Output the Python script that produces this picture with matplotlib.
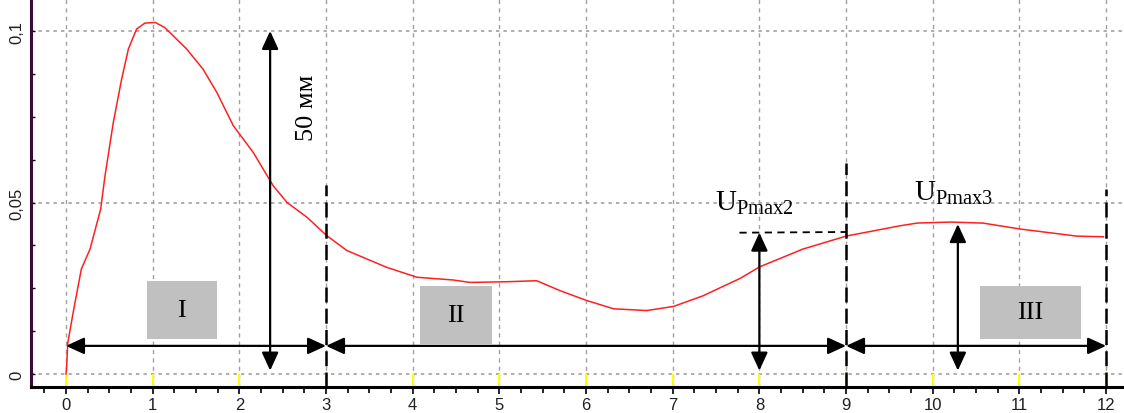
import matplotlib
matplotlib.use("Agg")
import matplotlib.pyplot as plt
from matplotlib.ticker import MultipleLocator
from matplotlib.patches import Rectangle

# ---- data ----
curve_x = [0.0, 0.008, 0.02, 0.09, 0.177, 0.277, 0.40, 0.45, 0.546, 0.642, 0.72, 0.815,
           0.91, 1.03, 1.14, 1.39, 1.58, 1.74, 1.93, 2.16, 2.39, 2.55, 2.78, 3.01, 3.24,
           3.70, 4.05, 4.47, 4.66, 5.09, 5.43, 5.70, 6.01, 6.32, 6.70, 7.01, 7.35, 7.78,
           8.0, 8.5, 9.0, 9.62, 9.82, 10.2, 10.58, 11.0, 11.66, 11.97]
curve_y = [0.0, 0.0024, 0.009, 0.019, 0.0306, 0.0364, 0.0481, 0.0578, 0.0734, 0.086, 0.0948,
           0.1006, 0.1023, 0.1025, 0.101, 0.0948, 0.0889, 0.0821, 0.0724, 0.0646, 0.0549,
           0.05, 0.0457, 0.0403, 0.036, 0.0311, 0.0282, 0.0274, 0.0267, 0.0269, 0.0272,
           0.0243, 0.0214, 0.019, 0.0185, 0.0197, 0.0228, 0.0279, 0.0312, 0.0364, 0.0402,
           0.0432, 0.044, 0.0443, 0.044, 0.0423, 0.0402, 0.04]

x_ticks = [0, 1, 2, 3, 4, 5, 6, 7, 8, 9, 10, 11, 12]
x_tick_labels = [str(v) for v in x_ticks]
y_ticks = [0, 0.05, 0.1]
y_tick_labels = ["0", "0,05", "0,1"]

stage_bounds = [0, 3, 9, 12]
stage_names = ["I", "II", "III"]
stage_boxes = [(0.93, 1.74, 0.0102, 0.0271), (4.08, 4.92, 0.0087, 0.0257), (10.55, 11.71, 0.0102, 0.0257)]
stage_line_tops = [0.055, 0.0616, 0.054]

arrow_y = 0.0082
height_arrow_x = 2.355
height_arrow_top = 0.1
umax2_x = 8.0
umax2_y = 0.0412
umax3_x = 10.29
umax3_y = 0.0437
arrow_bottom = 0.001

plt.rcParams["mathtext.fontset"] = "custom"
plt.rcParams["mathtext.rm"] = "Liberation Serif"

tick_font = "Liberation Sans"
tick_size = 12

fig = plt.figure(figsize=(11.24, 4.14), dpi=100)
ax = fig.add_axes([31/1124, 26/414, 1093/1124, 388/414])
ax.set_xlim(-0.404, 12.207)
ax.set_ylim(-0.00379, 0.10933)

for s in ["top", "right"]:
    ax.spines[s].set_visible(False)
ax.spines["left"].set_color("#3a0a3a")
ax.spines["left"].set_linewidth(2.2)
ax.spines["bottom"].set_color("black")
ax.spines["bottom"].set_linewidth(2.2)

# grid
for xv in x_ticks:
    ax.axvline(xv, color="#a0a0a0", lw=1, ls=(0, (3, 3)), zorder=0)
for yv in y_ticks:
    ax.axhline(yv, color="#a0a0a0", lw=1.2, ls=(0, (2, 2.5)), zorder=0)
# yellow marks
ax.vlines(x_ticks, -0.00379, 0, color="#ffff00", lw=1.5, zorder=1)

ax.set_xticks(x_ticks)
ax.set_xticklabels(x_tick_labels, fontsize=tick_size, family=tick_font, color="#202020")
ax.xaxis.set_minor_locator(MultipleLocator(0.25))
ax.tick_params(axis="x", which="major", direction="out", length=5, width=1.2, pad=2)
ax.tick_params(axis="x", which="minor", direction="out", length=4, width=1.2)
ax.set_yticks(y_ticks)
ax.set_yticklabels(y_tick_labels, fontsize=tick_size, family=tick_font, rotation=90,
                   va="center", color="#202020")
ax.yaxis.set_minor_locator(MultipleLocator(0.0125))
ax.tick_params(axis="y", which="major", direction="in", length=3, width=1, pad=5)
ax.tick_params(axis="y", which="minor", direction="in", length=3, width=1)

ax.plot(curve_x, curve_y, color="#ff2020", lw=1.1, zorder=3)

# stage boundary dashed lines
for xb, top in zip(stage_bounds[1:], stage_line_tops):
    ax.plot([xb, xb], [-0.00379, top], color="black", lw=1.8, ls=(0, (6, 2.5)), zorder=4,
            clip_on=False)

arrow_kw = dict(arrowstyle="<|-|>,head_length=0.5,head_width=0.23", color="black", lw=1.6,
                mutation_scale=22, shrinkA=0, shrinkB=0)
for a, b in zip(stage_bounds[:-1], stage_bounds[1:]):
    ax.annotate("", xy=(b, arrow_y), xytext=(a, arrow_y), arrowprops=arrow_kw, zorder=5)

ax.annotate("", xy=(height_arrow_x, height_arrow_top), xytext=(height_arrow_x, arrow_bottom),
            arrowprops=arrow_kw, zorder=5)
ax.annotate("", xy=(umax2_x, umax2_y), xytext=(umax2_x, arrow_bottom), arrowprops=arrow_kw, zorder=5)
ax.annotate("", xy=(umax3_x, umax3_y), xytext=(umax3_x, arrow_bottom), arrowprops=arrow_kw, zorder=5)
ax.plot([7.77, 9.0], [0.0412, 0.0414], color="black", lw=1.3, ls=(0, (4, 3)), zorder=4)

ax.text(2.78, 0.078, "50 мм", rotation=90, ha="center", va="center", fontsize=19,
        family="Liberation Serif")
ax.text(7.49, 0.0481, r"U$_{\mathrm{Pmax2}}$", fontsize=21, family="Liberation Serif",
        ha="left", va="baseline")
ax.text(9.78, 0.051, r"U$_{\mathrm{Pmax3}}$", fontsize=21, family="Liberation Serif",
        ha="left", va="baseline")

for (x0, x1, y0, y1), name in zip(stage_boxes, stage_names):
    ax.add_patch(Rectangle((x0, y0), x1 - x0, y1 - y0, facecolor="#c0c0c0", edgecolor="none", zorder=2))
    ax.text((x0 + x1) / 2, (y0 + y1) / 2, name, ha="center", va="center", fontsize=19,
            family="Liberation Serif", zorder=3)

fig.savefig("out.png", dpi=100)
